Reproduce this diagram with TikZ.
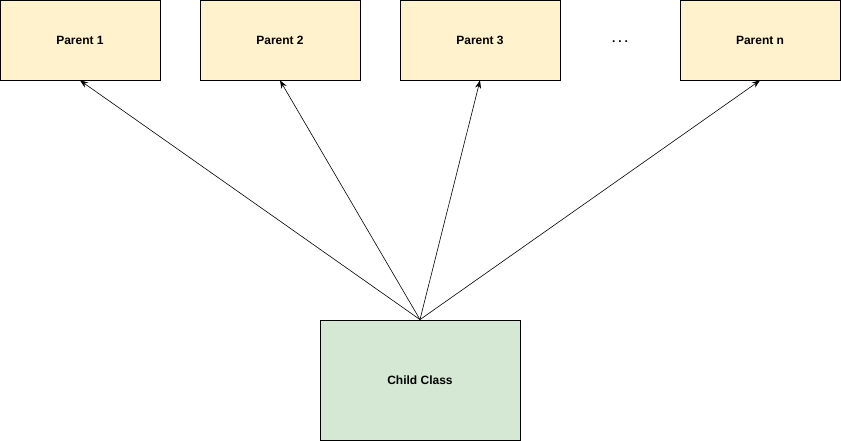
\documentclass[tikz,border=0pt]{standalone}
\usepackage{fontspec}
\setmainfont{Liberation Sans}
\usetikzlibrary{arrows.meta}
\definecolor{parentfill}{HTML}{FFF2CC}
\definecolor{childfill}{HTML}{D5E8D4}
\begin{document}
\begin{tikzpicture}
    [x=1pt,y=-1pt,
     parent/.style={draw,line width=0.8pt,fill=parentfill,minimum width=160pt,
       minimum height=80pt,inner sep=0pt,font=\fontsize{12}{14}\selectfont\bfseries},
     child/.style={draw,line width=0.8pt,fill=childfill,minimum width=200pt,
       minimum height=120pt,inner sep=0pt,font=\fontsize{12}{14}\selectfont\bfseries},
     inherit/.style={draw,-{Stealth[length=8pt,width=6pt]},line width=0.6pt}]
    \useasboundingbox (0,0) rectangle (841,441);
    \node[parent] (P1) at (80,40) {Parent 1};
    \node[parent] (P2) at (280,40) {Parent 2};
    \node[parent] (P3) at (480,40) {Parent 3};
    \node[parent] (Pn) at (760,40) {Parent n};
    \node[inner sep=0pt,font=\fontsize{12}{14}\selectfont\bfseries] (dots) at (620,42) {.\hspace{3pt}.\hspace{3pt}.};
    \node[child] (CHILD) at (420,380) {Child Class};
    \draw[inherit] (CHILD.north) -- (P1.south);
    \draw[inherit] (CHILD.north) -- (P2.south);
    \draw[inherit] (CHILD.north) -- (P3.south);
    \draw[inherit] (CHILD.north) -- (Pn.south);
\end{tikzpicture}
\end{document}
